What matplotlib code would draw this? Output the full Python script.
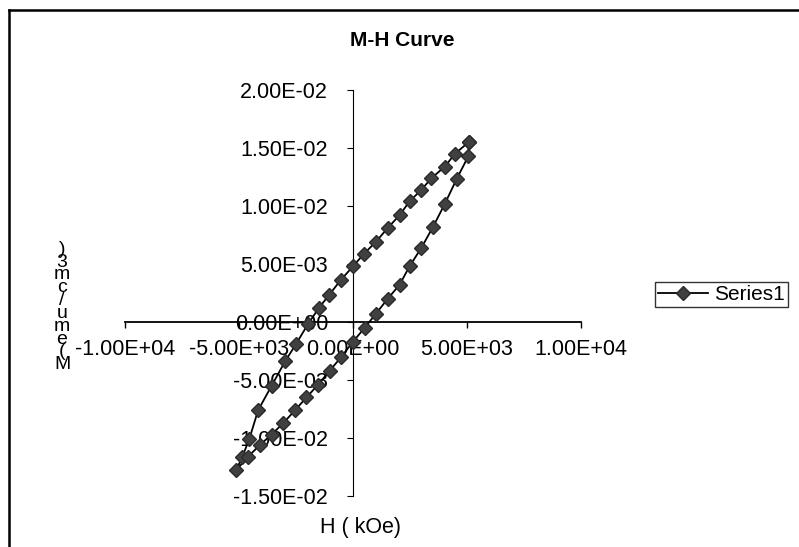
import matplotlib
matplotlib.use("Agg")
import matplotlib.pyplot as plt
from matplotlib.lines import Line2D

# M-H hysteresis loop
# descending branch (from +H max down to -H max)
h_down = [5070, 4470, 4030, 3440, 3000, 2480, 2040, 1520, 1000, 490, 0,
          -545, -1060, -1500, -1980, -2500, -2980, -3570, -4160, -4550, -4850, -5130]
m_down = [0.0155, 0.0145, 0.0134, 0.0124, 0.0114, 0.0104, 0.0092, 0.0081, 0.0069, 0.0059, 0.0048,
          0.0036, 0.0023, 0.0012, -0.0002, -0.0019, -0.0034, -0.0055, -0.0076, -0.0101, -0.0116, -0.0128]

# ascending branch (back up to +H max)
h_up = [-4600, -4080, -3570, -3050, -2540, -2040, -1530, -1020, -510, 0,
        510, 1000, 1520, 2040, 2480, 3000, 3510, 4030, 4540, 5060, 5070]
m_up = [-0.0116, -0.0106, -0.0097, -0.0087, -0.0076, -0.0065, -0.0054, -0.0042, -0.0030, -0.0017,
        -0.0005, 0.0007, 0.0020, 0.0032, 0.0048, 0.0064, 0.0082, 0.0102, 0.0123, 0.0143, 0.0155]

x_ticks = [-10000, -5000, 0, 5000, 10000]
x_labels = ["-1.00E+04", "-5.00E+03", "0.00E+00", "5.00E+03", "1.00E+04"]
y_ticks = [-0.015, -0.01, -0.005, 0, 0.005, 0.01, 0.015, 0.02]
y_labels = ["-1.50E-02", "-1.00E-02", "-5.00E-03", "0.00E+00",
            "5.00E-03", "1.00E-02", "1.50E-02", "2.00E-02"]

plt.rcParams["font.family"] = ["Liberation Sans", "DejaVu Sans"]

W, H = 799, 547
fig = plt.figure(figsize=(W / 100, H / 100), dpi=100)
ax = fig.add_axes([125 / W, 1 - 496 / H, 456 / W, 406 / H])

h_all = h_down + h_up
m_all = m_down + m_up
ax.plot(h_all, m_all, color="black", lw=1.3, marker="D", markersize=7.5,
        markerfacecolor="#404040", markeredgecolor="#2a2a2a", label="Series1", zorder=3)

ax.set_xlim(-10000, 10000)
ax.set_ylim(-0.015, 0.02)

# axes cross at zero like the Excel chart
ax.spines["left"].set_position(("data", 0))
ax.spines["bottom"].set_position(("data", 0))
ax.spines["top"].set_visible(False)
ax.spines["right"].set_visible(False)
ax.spines["left"].set_linewidth(0.8)
ax.spines["bottom"].set_linewidth(1.3)

ax.set_xticks(x_ticks)
ax.set_xticklabels(x_labels)
ax.set_yticks(y_ticks)
ax.set_yticklabels(y_labels)
ax.tick_params(axis="x", direction="out", length=4, width=1, pad=8, labelsize=15.5)
ax.tick_params(axis="y", direction="out", length=4, width=0.8, pad=14, labelsize=15.5)
ax.patch.set_alpha(0)

fig.text(402 / W, 1 - 40 / H, "M-H Curve", ha="center", va="center",
         fontsize=15, fontweight="bold")
fig.text(360 / W, 1 - 527 / H, "H ( kOe)", ha="center", va="center", fontsize=15.5)

# stacked y label as it appears in the scan
ylab = "M(emu/cm3)"
fig.text(62 / W, 1 - 307 / H, "\n".join(reversed(ylab)), ha="center", va="center",
         fontsize=14, linespacing=0.68)

leg = ax.legend(loc="upper left", bbox_to_anchor=(655 / W, 1 - 282 / H),
                bbox_transform=fig.transFigure, frameon=True, fancybox=False,
                fontsize=15, handlelength=2.4, borderpad=0.15, handletextpad=0.3,
                borderaxespad=0)
leg.get_frame().set_edgecolor("black")
leg.get_frame().set_linewidth(1.0)

# chart border (only top and left edges show in the scan)
fig.add_artist(Line2D([9 / W, 9 / W], [0, 1 - 10 / H], color="black", lw=1.8,
                      transform=fig.transFigure))
fig.add_artist(Line2D([9 / W, 1], [1 - 10 / H, 1 - 10 / H], color="black", lw=1.8,
                      transform=fig.transFigure))

fig.savefig("out.png", dpi=100)
